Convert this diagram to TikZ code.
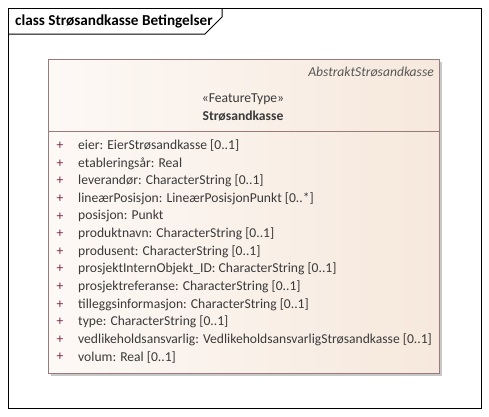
\documentclass[tikz,border=0pt]{standalone}
\usepackage{fontspec}
\setmainfont{Carlito}
\definecolor{frameline}{HTML}{000000}
\definecolor{boxline}{HTML}{9A7B7B}
\definecolor{fillL}{HTML}{FDF9F6}
\definecolor{fillR}{HTML}{F6E8DC}
\definecolor{shadowc}{HTML}{C8C8C8}
\definecolor{txt}{HTML}{3A3A3A}
\definecolor{plusc}{HTML}{7A2848}
\begin{document}
\begin{tikzpicture}[x=1pt,y=-1pt,
  attr/.style={anchor=west,inner sep=0pt,text=txt,font=\fontsize{13.6}{15}\selectfont},
  plus/.style={anchor=center,inner sep=0pt,text=plusc,font=\fontsize{13.6}{15}\selectfont}]
\useasboundingbox[fill=white] (0,0) rectangle (489,416);
% frame
\draw[frameline,line width=1pt] (8,8) rectangle (481,408);
\draw[frameline,line width=1pt] (8,34) -- (205,34) -- (222,17) -- (222,8);
\node[anchor=west,inner sep=0pt,font=\bfseries\fontsize{15.2}{17}\selectfont] (title) at (15,21) {class Strøsandkasse Betingelser};
% shadow
\fill[shadowc] (51,62) rectangle (442,376);
% class box
\shade[left color=fillL,right color=fillR] (48,59) rectangle (439,373);
\draw[boxline,line width=1pt] (48,59) rectangle (439,373);
\draw[boxline,line width=1pt] (48,131) -- (439,131);
\node[anchor=east,inner sep=0pt,text=txt!85,font=\itshape\fontsize{13.6}{15}\selectfont] (abs) at (434,72) {AbstraktStrøsandkasse};
\node[inner sep=0pt,text=txt,font=\fontsize{13.6}{15}\selectfont] (st) at (243,99) {«FeatureType»};
\node[inner sep=0pt,text=txt,font=\bfseries\fontsize{13.6}{15}\selectfont] (nm) at (243,116) {Strøsandkasse};
\foreach \t [count=\i from 0] in {
 {eier: EierStrøsandkasse [0..1]},
 {etableringsår: Real},
 {leverandør: CharacterString [0..1]},
 {lineærPosisjon: LineærPosisjonPunkt [0..*]},
 {posisjon: Punkt},
 {produktnavn: CharacterString [0..1]},
 {produsent: CharacterString [0..1]},
 {prosjektInternObjekt\_ID: CharacterString [0..1]},
 {prosjektreferanse: CharacterString [0..1]},
 {tilleggsinformasjon: CharacterString [0..1]},
 {type: CharacterString [0..1]},
 {vedlikeholdsansvarlig: VedlikeholdsansvarligStrøsandkasse [0..1]},
 {volum: Real [0..1]}}
{
 \node[plus] (p\i) at (60,{146+17.6*\i}) {+};
 \node[attr] (a\i) at (78,{146+17.6*\i}) {\t};
}
\end{tikzpicture}
\end{document}
